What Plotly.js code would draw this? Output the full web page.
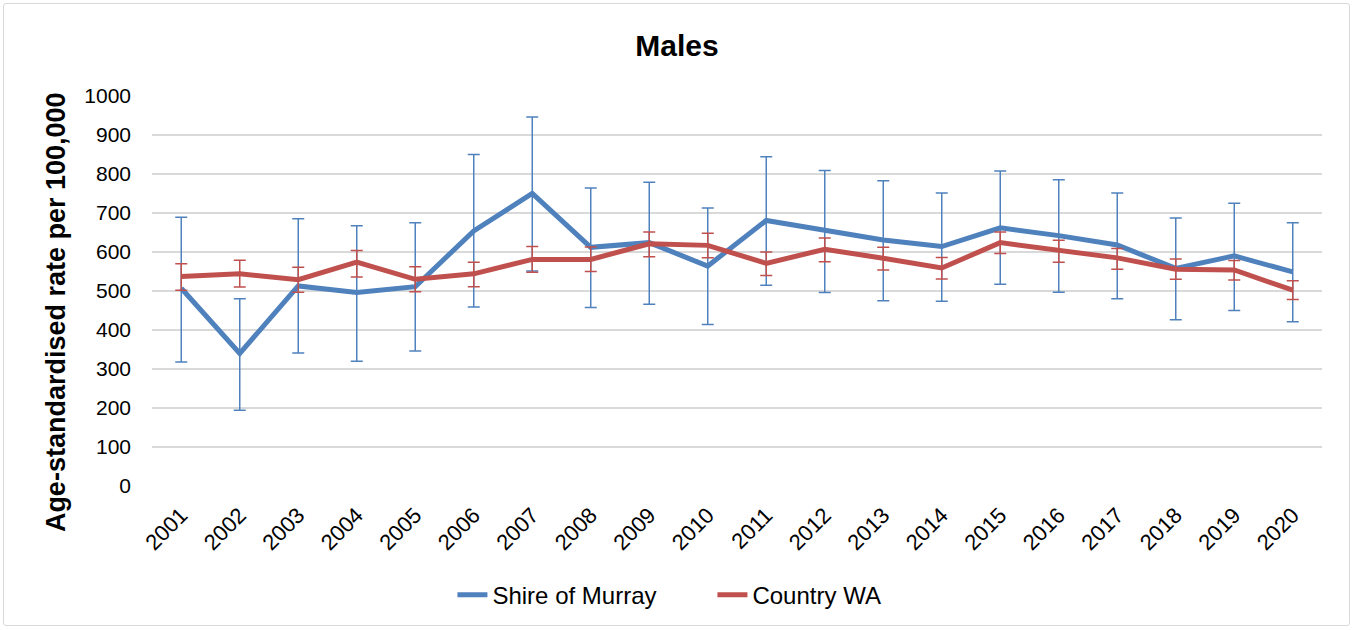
<!DOCTYPE html>
<html>
<head>
<meta charset="utf-8">
<script src="https://cdn.plot.ly/plotly-3.0.1.min.js"></script>
<style>
html,body{margin:0;padding:0;background:#fff;}
#wrap{position:relative;width:1354px;height:630px;}
#chart{width:1354px;height:630px;}
#frame{position:absolute;left:3px;top:3px;width:1345px;height:621px;border:1px solid #d9d9d9;border-radius:3px;pointer-events:none;}
</style>
</head>
<body>
<div id="wrap"><div id="chart"></div><div id="frame"></div></div>
<script>
const years = ['2001','2002','2003','2004','2005','2006','2007','2008','2009','2010','2011','2012','2013','2014','2015','2016','2017','2018','2019','2020'];

const murray = [507,340,513,496,511,654,750,612,624,564,681,656,631,614,662,642,618,558,590,549];
const murrayUpper = [689,480,685,667,675,850,946,764,779,713,844,809,783,751,808,785,751,687,725,675];
const murrayLower = [318,194,341,320,346,459,551,458,466,414,515,496,475,474,517,497,480,426,450,421];

const countryWA = [537,544,529,574,530,544,581,581,621,617,571,607,584,559,624,603,585,556,554,502];
const countryUpper = [570,579,561,604,562,574,614,613,651,648,600,636,612,586,651,630,609,582,578,526];
const countryLower = [502,510,497,536,498,511,548,550,588,585,540,575,554,531,596,574,556,530,528,478];

const yTicks = [0,100,200,300,400,500,600,700,800,900,1000];

function plus(v,u){return u.map((x,i)=>x-v[i]);}
function minus(v,l){return l.map((x,i)=>v[i]-x);}

const BLUE = '#4F81BD', RED = '#C0504D';

const traces = [
  {
    x: years, y: murray, type: 'scatter', mode: 'lines', name: 'Shire of Murray',
    line: {color: BLUE, width: 5},
    error_y: {type: 'data', symmetric: false, array: plus(murray, murrayUpper), arrayminus: minus(murray, murrayLower),
      color: BLUE, thickness: 1.5, width: 6}
  },
  {
    x: years, y: countryWA, type: 'scatter', mode: 'lines', name: 'Country WA',
    line: {color: RED, width: 5},
    error_y: {type: 'data', symmetric: false, array: plus(countryWA, countryUpper), arrayminus: minus(countryWA, countryLower),
      color: RED, thickness: 1.5, width: 6}
  }
];

const layout = {
  width: 1354, height: 630,
  margin: {l: 152, r: 32, t: 96, b: 144},
  paper_bgcolor: '#ffffff', plot_bgcolor: '#ffffff',
  font: {family: 'Liberation Sans, Arial, sans-serif', size: 20, color: '#000'},
  title: {text: '<b>Males</b>', font: {size: 30, color: '#000'}, x: 0.5, xanchor: 'center', y: 0.928, yanchor: 'middle'},
  showlegend: true,
  legend: {orientation: 'h', x: 0.479, xanchor: 'center', y: -0.28, yanchor: 'middle', font: {size: 24},
    traceorder: 'normal', entrywidth: 215},
  xaxis: {
    type: 'category', range: [-0.5, 19.5], tickangle: -45, showgrid: false, zeroline: false, showline: false,
    ticks: '', tickfont: {size: 22}, ticklabelstandoff: 11
  },
  yaxis: {
    range: [0, 1000], tickvals: yTicks, ticktext: yTicks.map(String),
    showgrid: true, gridcolor: '#d9d9d9', gridwidth: 2, zeroline: false, showline: false,
    ticks: '', ticklen: 0, tickfont: {size: 21}, ticklabelstandoff: 20
  },
  annotations: [{
    text: '<b>Age-standardised rate per 100,000</b>', textangle: -90,
    xref: 'paper', yref: 'paper', x: -0.082, y: 0.446, xanchor: 'center', yanchor: 'middle',
    showarrow: false, font: {size: 27, color: '#000'}
  }]
};

Plotly.newPlot('chart', traces, layout, {displayModeBar: false, staticPlot: true});
</script>
</body>
</html>
